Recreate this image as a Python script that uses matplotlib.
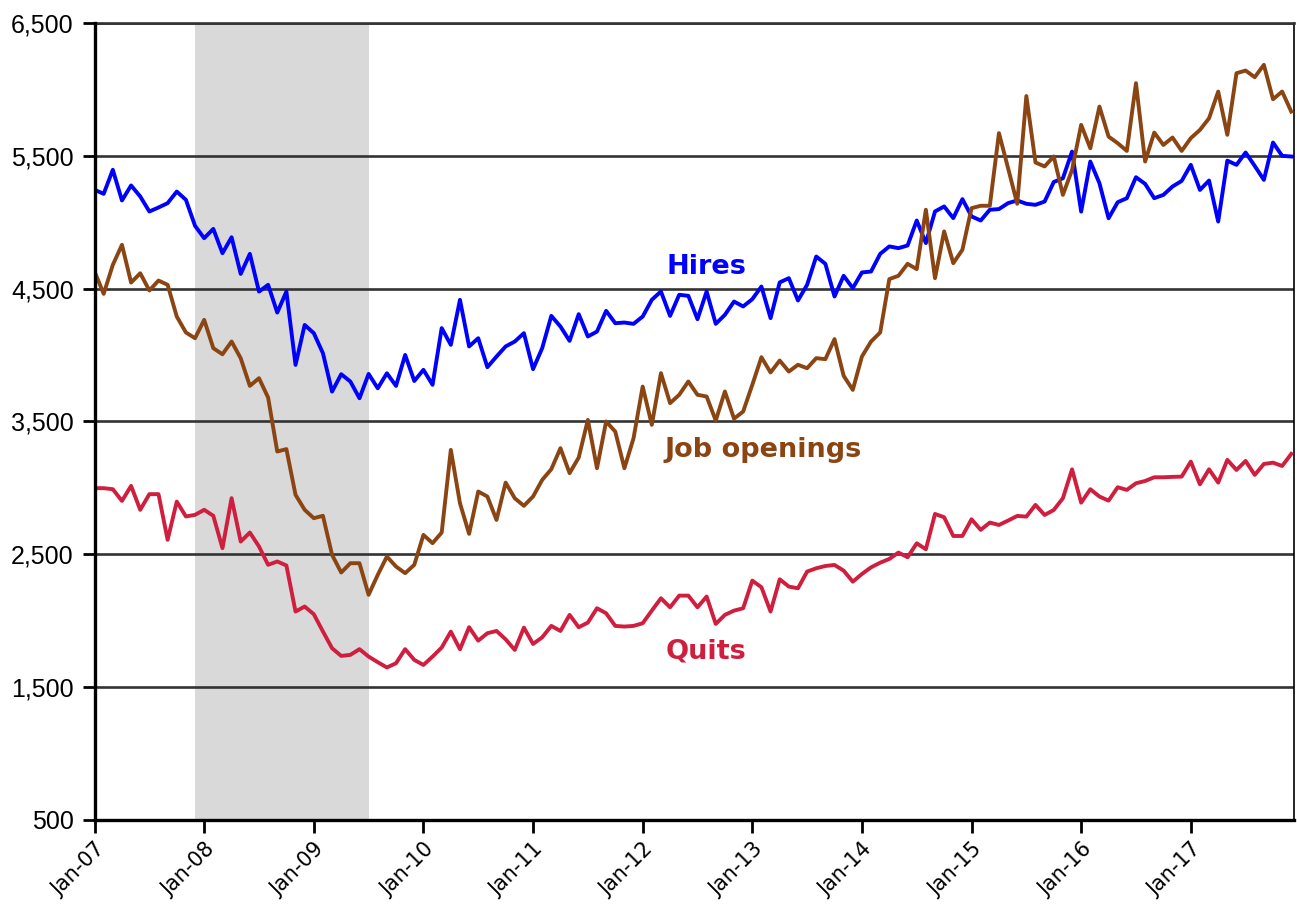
import matplotlib
matplotlib.use("Agg")
from matplotlib import pyplot as plt
from matplotlib.ticker import FuncFormatter

# Monthly levels (thousands), Jan-07 .. Dec-17
hires = [
    5244, 5214, 5395, 5164, 5277, 5194, 5081, 5111, 5144, 5231, 5169, 4973,
    4880, 4950, 4767, 4887, 4611, 4762, 4478, 4529, 4320, 4478, 3926, 4227,
    4165, 4014, 3725, 3856, 3801, 3675, 3858, 3750, 3863, 3768, 4001, 3805,
    3889, 3776, 4203, 4077, 4416, 4065, 4127, 3909, 3989, 4065, 4102, 4165,
    3894, 4052, 4295, 4215, 4107, 4308, 4140, 4177, 4333, 4240, 4245, 4235,
    4290, 4416, 4479, 4295, 4454, 4446, 4270, 4479, 4235, 4303, 4403, 4366,
    4421, 4516, 4278, 4547, 4579, 4411, 4529, 4742, 4687, 4441, 4597, 4504,
    4622, 4629, 4762, 4818, 4805, 4825, 5013, 4843, 5081, 5119, 5031, 5174,
    5044, 5013, 5094, 5099, 5144, 5164, 5139, 5131, 5156, 5303, 5331, 5532,
    5080, 5457, 5294, 5030, 5151, 5181, 5339, 5289, 5181, 5206, 5269, 5311,
    5432, 5243, 5314, 5005, 5464, 5432, 5525, 5424, 5319, 5600, 5500, 5495,
]

job_openings = [
    4629, 4461, 4679, 4830, 4546, 4616, 4486, 4561, 4529, 4290, 4170, 4127,
    4265, 4052, 4006, 4102, 3976, 3768, 3826, 3680, 3274, 3292, 2948, 2835,
    2772, 2790, 2496, 2363, 2433, 2433, 2195, 2345, 2483, 2408, 2358, 2421,
    2646, 2584, 2664, 3286, 2885, 2654, 2973, 2935, 2759, 3040, 2922, 2865,
    2935, 3060, 3141, 3299, 3111, 3229, 3512, 3148, 3500, 3424, 3148, 3374,
    3763, 3475, 3864, 3638, 3701, 3801, 3701, 3688, 3507, 3726, 3521, 3575,
    3776, 3984, 3869, 3959, 3876, 3927, 3901, 3977, 3969, 4120, 3844, 3738,
    3989, 4102, 4170, 4572, 4597, 4687, 4647, 5094, 4579, 4931, 4692, 4793,
    5106, 5124, 5124, 5671, 5407, 5139, 5950, 5450, 5420, 5495, 5206, 5394,
    5733, 5557, 5871, 5645, 5595, 5537, 6047, 5457, 5675, 5582, 5638, 5537,
    5633, 5695, 5783, 5984, 5658, 6122, 6142, 6092, 6185, 5926, 5984, 5833,
]

quits = [
    2998, 2998, 2990, 2902, 3015, 2835, 2953, 2953, 2609, 2897, 2785, 2797,
    2835, 2790, 2546, 2923, 2596, 2664, 2559, 2421, 2446, 2416, 2069, 2107,
    2049, 1919, 1793, 1735, 1743, 1786, 1730, 1688, 1648, 1680, 1786, 1705,
    1667, 1730, 1798, 1918, 1785, 1951, 1850, 1906, 1923, 1860, 1780, 1948,
    1825, 1875, 1961, 1923, 2044, 1951, 1986, 2094, 2056, 1961, 1956, 1961,
    1981, 2076, 2169, 2101, 2189, 2189, 2101, 2182, 1976, 2044, 2076, 2094,
    2302, 2252, 2069, 2312, 2257, 2244, 2370, 2395, 2412, 2420, 2377, 2294,
    2352, 2402, 2437, 2465, 2513, 2478, 2583, 2538, 2804, 2779, 2638, 2638,
    2764, 2684, 2739, 2721, 2754, 2789, 2784, 2872, 2796, 2834, 2922, 3140,
    2889, 2990, 2935, 2904, 3005, 2985, 3035, 3052, 3080, 3080, 3083, 3085,
    3198, 3027, 3140, 3040, 3211, 3135, 3203, 3098, 3180, 3190, 3165, 3256,
]

tick_labels = ["Jan-07", "Jan-08", "Jan-09", "Jan-10", "Jan-11", "Jan-12",
               "Jan-13", "Jan-14", "Jan-15", "Jan-16", "Jan-17"]
y_ticks = [500, 1500, 2500, 3500, 4500, 5500, 6500]

# recession: Dec-07 .. Jul-09 (month index)
recession = (11, 30)

months = list(range(len(hires)))

fig = plt.figure(figsize=(12.97, 9.13), dpi=100)
ax = fig.add_axes([0.0729, 0.1019, 0.9248, 0.8729])

ax.axvspan(recession[0], recession[1], color='#d9d9d9', lw=0, zorder=0)

for y in y_ticks[1:]:
    ax.axhline(y, color='#333333', lw=1.9, zorder=1)

ax.plot(months, hires, color='#0000ff', lw=2.8, zorder=3)
ax.plot(months, job_openings, color='#8b4513', lw=2.8, zorder=3)
ax.plot(months, quits, color='#d01e3e', lw=2.8, zorder=3)

ax.text(62.6, 4611, "Hires", color='#0000ff', fontsize=19.5,
        fontweight='bold', family='DejaVu Sans', va='baseline', ha='left')
ax.text(62.4, 3230, "Job openings", color='#8b4513', fontsize=19.5,
        fontweight='bold', family='DejaVu Sans', va='baseline', ha='left')
ax.text(62.5, 1712, "Quits", color='#d01e3e', fontsize=19.5,
        fontweight='bold', family='DejaVu Sans', va='baseline', ha='left')

ax.set_xlim(0, 131.3)
ax.set_ylim(500, 6500)

ax.set_yticks(y_ticks)
ax.yaxis.set_major_formatter(FuncFormatter(lambda v, p: f"{int(v):,}"))
for lbl in ax.get_yticklabels():
    lbl.set_family('Liberation Sans')
    lbl.set_fontsize(18)

ax.set_xticks(range(0, 121, 12))
ax.set_xticklabels(tick_labels, rotation=45, ha='right',
                   rotation_mode='anchor', fontsize=15, family='DejaVu Sans')

ax.tick_params(axis='both', direction='out', length=9, width=2, color='black')
ax.tick_params(axis='x', pad=5)
ax.tick_params(axis='y', pad=6)

ax.spines['left'].set_linewidth(2.4)
ax.spines['bottom'].set_linewidth(2.4)
ax.spines['right'].set_linewidth(1.2)
ax.spines['top'].set_linewidth(1.9)
ax.spines['top'].set_color('#333333')
ax.spines['left'].set_zorder(4)
ax.spines['bottom'].set_zorder(4)

fig.savefig('out.png', dpi=100)
